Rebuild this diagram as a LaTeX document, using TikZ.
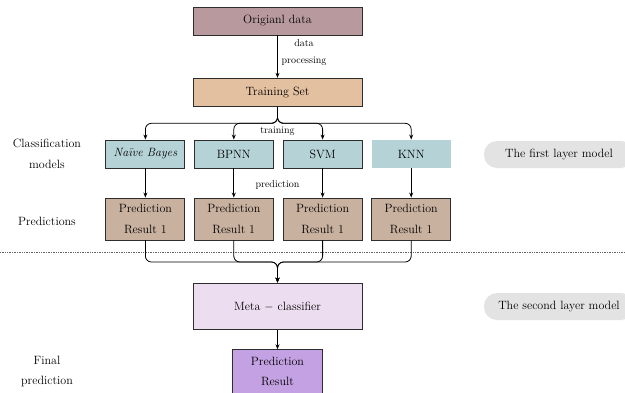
\documentclass[tikz,border=0pt]{standalone}
\usepackage{fontspec}
\usetikzlibrary{arrows.meta}
\definecolor{cOrig}{RGB}{184,154,158}
\definecolor{cTrain}{RGB}{227,192,160}
\definecolor{cModel}{RGB}{181,211,214}
\definecolor{cPred}{RGB}{201,177,160}
\definecolor{cMeta}{RGB}{237,221,240}
\definecolor{cFinal}{RGB}{196,161,226}
\definecolor{cGrey}{RGB}{227,227,227}
\definecolor{cBorder}{RGB}{45,45,45}
\tikzset{
  x=1pt, y=-1pt,
  bigfont/.style={font=\fontsize{12}{14.5}\selectfont},
  smallfont/.style={font=\fontsize{10}{12}\selectfont},
  box/.style={bigfont, draw=cBorder, line width=0.9pt, inner sep=0pt, align=center},
  widebox/.style={box, minimum width=169pt},
  modelbox/.style={box, fill=cModel, minimum width=79pt, minimum height=28pt},
  predbox/.style={box, fill=cPred, minimum width=79pt, minimum height=42pt},
  layerbox/.style={bigfont, fill=cGrey, rounded corners=13pt, minimum width=150pt, minimum height=27pt, inner sep=0pt},
  sidelabel/.style={bigfont, align=center, inner sep=0pt},
  edgelabel/.style={smallfont, align=center, inner sep=0pt},
  conn/.style={line width=0.8pt, -{Stealth[length=5pt,width=4pt]}, rounded corners=6pt},
}
\begin{document}
\begin{tikzpicture}
\useasboundingbox (0,0) rectangle (625,392);

% main column
\node[widebox, fill=cOrig, minimum height=28pt] (od) at (277.5,21) {Origianl data};
\node[widebox, fill=cTrain, minimum height=28pt] (ts) at (277.5,92.3) {Training Set};

% models
\node[modelbox] (nb) at (145.4,154) {\textit{Naïve Bayes}};
\node[modelbox] (bp) at (233.8,154) {BPNN};
\node[modelbox] (sv) at (322.6,154) {SVM};
\node[modelbox, draw=none] (kn) at (411.2,154) {KNN};

% predictions
\node[predbox] (p1) at (145.4,219) {Prediction\\[6pt]Result 1};
\node[predbox] (p2) at (233.8,219) {Prediction\\[6pt]Result 1};
\node[predbox] (p3) at (322.6,219) {Prediction\\[6pt]Result 1};
\node[predbox] (p4) at (411.2,219) {Prediction\\[6pt]Result 1};

% meta and final
\node[widebox, fill=cMeta, minimum height=46.5pt] (meta) at (277.5,306.3) {Meta $-$ classifier};
\node[box, fill=cFinal, minimum width=90.5pt, minimum height=43.5pt] (fin) at (277.5,371.5) {Prediction\\[6pt]Result};

% side labels
\node[sidelabel] (lcls) at (47,154) {Classification\\[6pt]models};
\node[sidelabel] (lpred) at (47,221) {Predictions};
\node[sidelabel] (lfin) at (47,371.7) {Final\\[6pt]prediction};

% layer boxes
\node[layerbox] (l1) at (559,154.5) {The first layer model};
\node[layerbox] (l2) at (559,306.5) {The second layer model};

% dashed separator
\coordinate (dl) at (0,252.7);
\coordinate (dr) at (625,252.7);
\draw[gray!80!black, line width=0.8pt, dash pattern=on 1pt off 0.7pt] (dl) -- (dr);

% connectors
\draw[conn] (od) -- (ts);
\node[edgelabel] (ldp) at (304,52.5) {data\\[5pt]processing};

\coordinate (split) at (277.5,123.3);
\draw[conn] (ts.south) -- (split) -| (nb.north);
\draw[conn] (ts.south) -- (split) -| (bp.north);
\draw[conn] (ts.south) -- (split) -| (sv.north);
\draw[conn] (ts.south) -- (split) -| (kn.north);
\node[edgelabel] (ltr) at (277.5,131) {training};

\draw[conn] (nb) -- (p1);
\draw[conn] (bp) -- (p2);
\draw[conn] (sv) -- (p3);
\draw[conn] (kn) -- (p4);
\node[edgelabel] (lpr) at (277.5,185) {prediction};

\coordinate (merge) at (277.5,262);
\draw[conn] (p1.south) |- (merge) -- (meta.north);
\draw[conn] (p2.south) |- (merge) -- (meta.north);
\draw[conn] (p3.south) |- (merge) -- (meta.north);
\draw[conn] (p4.south) |- (merge) -- (meta.north);

\draw[conn] (meta) -- (fin);
\end{tikzpicture}
\end{document}
